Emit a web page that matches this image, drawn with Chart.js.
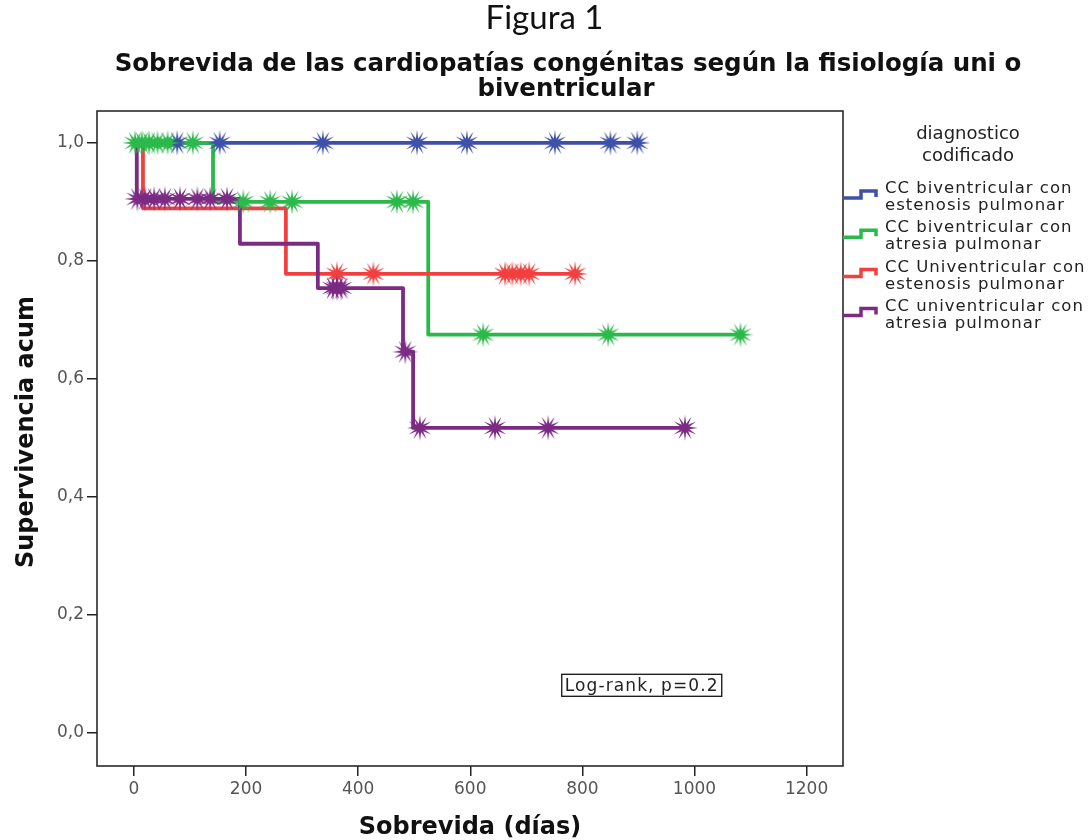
<!DOCTYPE html>
<html>
<head>
<meta charset="utf-8">
<script src="https://cdn.jsdelivr.net/npm/chart.js@4.4.1/dist/chart.umd.min.js"></script>
<style>
html,body{margin:0;padding:0;background:#ffffff;}
#wrap{width:1089px;height:840px;position:relative;}
</style>
</head>
<body>
<div id="wrap"><canvas id="c" width="1089" height="840"></canvas></div>
<script>
// ---------- data ----------
const groupLabels = [
  ["CC biventricular con", "estenosis pulmonar"],
  ["CC biventricular con", "atresia pulmonar"],
  ["CC Univentricular con", "estenosis pulmonar"],
  ["CC univentricular con", "atresia pulmonar"]
];
const groupColors = ["#3e50a7", "#2cb94b", "#f2403f", "#7b2b84"];

// Kaplan-Meier: event days, survival after each event, last follow-up day, censored days
const blueEventDays = [];
const blueSurvival = [];
const blueLastDay = 898;
const blueCensoredDays = [77, 153, 337, 505, 594, 751, 850, 898];

const greenEventDays = [141, 525];
const greenSurvival = [0.9, 0.675];
const greenLastDay = 1082;
const greenCensoredDays = [2, 14, 27, 42, 60, 105, 195, 243, 282, 469, 498, 623, 846, 1082];

const redEventDays = [16, 271];
const redSurvival = [0.889, 0.778];
const redLastDay = 787;
const redCensoredDays = [362, 427, 662, 675, 690, 705, 787];

const purpleEventDays = [5, 189, 328, 480, 498];
const purpleSurvival = [0.905, 0.829, 0.754, 0.646, 0.517];
const purpleLastDay = 983;
const purpleCensoredDays = [6, 20, 36, 55, 82, 113, 136, 166, 355, 362, 370, 484, 510, 644, 739, 983];

const xTickValues = [0, 200, 400, 600, 800, 1000, 1200];
const yTickValues = [0, 0.2, 0.4, 0.6, 0.8, 1.0];

const titleText = "Figura 1";
const subtitleLines = ["Sobrevida de las cardiopatías congénitas según la fisiología uni o", "biventricular"];
const xTitle = "Sobrevida (días)";
const yTitle = "Supervivencia acum";
const legendTitle = ["diagnostico", "codificado"];
const testText = "Log-rank, p=0.2";

// ---------- helpers ----------
function stepPoints(days, surv, last) {
  const pts = [{x: 0, y: 1}];
  let s = 1;
  days.forEach((d, i) => { pts.push({x: d, y: s}); s = surv[i]; pts.push({x: d, y: s}); });
  pts.push({x: last, y: s});
  return pts;
}
function survivalAt(days, surv, t) {
  let s = 1;
  days.forEach((d, i) => { if (t >= d) s = surv[i]; });
  return s;
}
function censorPoints(days, surv, cens) {
  return cens.map(t => ({x: t, y: survivalAt(days, surv, t)}));
}
function burst(color) {
  const c = document.createElement('canvas');
  c.width = 28; c.height = 28;
  const g = c.getContext('2d');
  g.fillStyle = color;
  g.beginPath();
  const n = 12, R = 13, r = 4.5;
  for (let i = 0; i < 2 * n; i++) {
    const a = Math.PI * i / n - Math.PI / 2;
    const rad = (i % 2) ? r : R;
    g.lineTo(14 + rad * Math.cos(a), 14 + rad * Math.sin(a));
  }
  g.closePath();
  g.fill();
  return c;
}

const groups = [
  [blueEventDays, blueSurvival, blueLastDay, blueCensoredDays],
  [greenEventDays, greenSurvival, greenLastDay, greenCensoredDays],
  [redEventDays, redSurvival, redLastDay, redCensoredDays],
  [purpleEventDays, purpleSurvival, purpleLastDay, purpleCensoredDays]
];

const datasets = [];
[3, 1, 2, 0].forEach(i => {
  const [d, s, l, c] = groups[i];
  datasets.push({
    type: 'scatter', label: groupLabels[i].join(' ') + ' censurado',
    data: censorPoints(d, s, c), showLine: false,
    pointStyle: burst(groupColors[i]), pointRadius: 12, borderWidth: 0,
    backgroundColor: groupColors[i], borderColor: groupColors[i], yAxisID: 'y', xAxisID: 'x'
  });
});
[3, 2, 1, 0].forEach(i => {
  const [d, s, l] = groups[i];
  datasets.push({
    type: 'line', label: groupLabels[i].join(' '),
    data: stepPoints(d, s, l), borderColor: groupColors[i], backgroundColor: groupColors[i],
    borderWidth: 3.8, pointRadius: 0, fill: false, tension: 0, yAxisID: 'y', xAxisID: 'x',
    borderJoinStyle: 'round', borderCapStyle: 'round'
  });
});

const framePlugin = {
  id: 'frame',
  beforeDatasetsDraw(chart) {
    const {ctx, chartArea: a} = chart;
    ctx.save();
    ctx.strokeStyle = '#2a2a2a';
    ctx.lineWidth = 1.6;
    ctx.strokeRect(a.left, a.top, a.right - a.left, a.bottom - a.top);
    ctx.restore();
  }
};

const extrasPlugin = {
  id: 'extras',
  afterDraw(chart) {
    const {ctx, chartArea: a} = chart;
    // subtitle (two bold lines)
    ctx.save();
    ctx.fillStyle = '#111';
    ctx.font = 'bold 24.5px "DejaVu Sans"';
    ctx.textAlign = 'center';
    ctx.textBaseline = 'middle';
    ctx.fillText(subtitleLines[0], 568, 65);
    ctx.fillText(subtitleLines[1], 566, 90);
    ctx.restore();

    // y axis title
    ctx.save();
    ctx.fillStyle = '#111';
    ctx.font = 'bold 24px "DejaVu Sans"';
    ctx.textAlign = 'center';
    ctx.textBaseline = 'middle';
    ctx.translate(27, 432);
    ctx.rotate(-Math.PI / 2);
    ctx.fillText(yTitle, 0, 0);
    ctx.restore();

    // log-rank box
    ctx.save();
    const bx = a.left + (a.right - a.left) * 0.623;
    const by = a.top + (a.bottom - a.top) * 0.86;
    ctx.strokeStyle = '#111';
    ctx.lineWidth = 1.3;
    ctx.strokeRect(bx, by, 160, 22);
    ctx.font = '17px "DejaVu Sans"';
    ctx.letterSpacing = '1.1px';
    ctx.fillStyle = '#222';
    ctx.textBaseline = 'middle';
    ctx.fillText(testText, bx + 3, by + 12);
    ctx.restore();

    // legend
    ctx.save();
    const lx = a.right;
    ctx.fillStyle = '#222';
    ctx.font = '18px "DejaVu Sans"';
    ctx.textAlign = 'center';
    ctx.textBaseline = 'middle';
    ctx.fillText(legendTitle[0], 968, 134);
    ctx.fillText(legendTitle[1], 968, 156);
    ctx.font = '16.5px "DejaVu Sans"';
    ctx.letterSpacing = '1px';
    ctx.textAlign = 'left';
    groupLabels.forEach((lab, i) => {
      const y1 = 189 + 39.2 * i;
      ctx.strokeStyle = groupColors[i];
      ctx.lineWidth = 3.5;
      ctx.beginPath();
      ctx.moveTo(lx, y1 + 9);
      ctx.lineTo(lx + 18, y1 + 9);
      ctx.lineTo(lx + 18, y1 + 2);
      ctx.lineTo(lx + 33, y1 + 2);
      ctx.lineTo(lx + 33, y1 + 8);
      ctx.stroke();
      ctx.fillStyle = '#222';
      ctx.fillText(lab[0], lx + 42, y1);
      ctx.fillText(lab[1], lx + 42, y1 + 17);
    });
    ctx.restore();
  }
};

const tickFont = {family: '"DejaVu Sans"', size: 17};
new Chart(document.getElementById('c'), {
  type: 'line',
  data: {datasets},
  options: {
    responsive: false,
    animation: false,
    devicePixelRatio: 1,
    layout: {padding: 0},
    events: [],
    plugins: {
      legend: {display: false},
      tooltip: {enabled: false},
      title: {
        display: true, text: titleText, color: '#111',
        font: {family: 'Lato', size: 33, weight: 'normal', lineHeight: 1.1},
        padding: {top: 0, bottom: 74.7}
      },
      subtitle: {display: false}
    },
    scales: {
      x: {
        type: 'linear', position: 'bottom', min: -66, max: 1265,
        afterBuildTicks: s => { s.ticks = xTickValues.map(v => ({value: v})); },
        afterFit: s => { s.height = 74; },
        ticks: {font: tickFont, color: '#555', padding: 3, maxRotation: 0, autoSkip: false,
                callback: v => String(v)},
        grid: {display: true, drawOnChartArea: false, drawTicks: true, tickLength: 10, color: '#222', lineWidth: 1.5},
        border: {display: false},
        title: {display: true, text: xTitle, color: '#111',
                font: {family: '"DejaVu Sans"', size: 24, weight: 'bold', lineHeight: 1}, padding: 0}
      },
      y: {
        type: 'linear', position: 'left', min: -0.056, max: 1.054,
        afterBuildTicks: s => { s.ticks = yTickValues.map(v => ({value: v})); },
        afterFit: s => { s.width = 97; },
        ticks: {font: tickFont, color: '#555', padding: 3, autoSkip: false,
                callback: v => Number(v).toFixed(1).replace('.', ',')},
        grid: {display: true, drawOnChartArea: false, drawTicks: true, tickLength: 10, color: '#222', lineWidth: 1.5},
        border: {display: false}
      },
      legendSpace: {
        axis: 'y', type: 'linear', position: 'right', display: true,
        afterFit: s => { s.width = 246; },
        ticks: {display: false}, grid: {display: false}, border: {display: false}
      }
    }
  },
  plugins: [framePlugin, extrasPlugin]
});
</script>
</body>
</html>
